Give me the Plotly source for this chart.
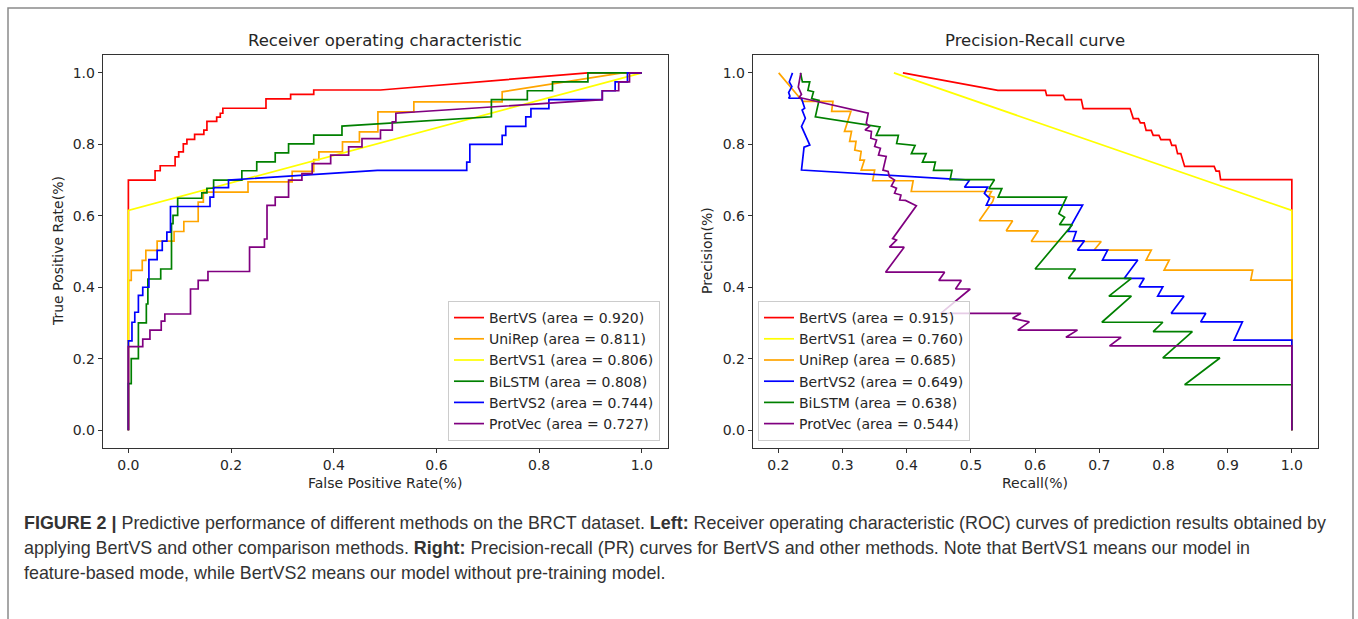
import plotly.graph_objects as go

W, H = 1358, 619

# ---------------- ROC data (false positive rate, true positive rate) ----------------
roc_names = ["BertVS (area = 0.920)", "UniRep (area = 0.811)", "BertVS1 (area = 0.806)",
             "BiLSTM (area = 0.808)", "BertVS2 (area = 0.744)", "ProtVec (area = 0.727)"]
roc_colors = ["#ff0000", "#ffa500", "#ffff00", "#008000", "#0000ff", "#800080"]

roc_bertvs_fpr = [0, 0, 0.052, 0.052, 0.062, 0.062, 0.091, 0.091, 0.098, 0.098, 0.107, 0.107, 0.114, 0.114,
                  0.129, 0.129, 0.147, 0.147, 0.153, 0.153, 0.172, 0.172, 0.179, 0.179, 0.184, 0.184,
                  0.268, 0.268, 0.316, 0.316, 0.361, 0.361, 0.491, 0.895, 1.0]
roc_bertvs_tpr = [0, 0.700, 0.700, 0.726, 0.726, 0.740, 0.740, 0.765, 0.765, 0.779, 0.779, 0.801, 0.801, 0.814,
                  0.814, 0.828, 0.828, 0.840, 0.840, 0.864, 0.864, 0.876, 0.876, 0.887, 0.887, 0.901,
                  0.901, 0.927, 0.927, 0.940, 0.940, 0.952, 0.952, 1.0, 1.0]

roc_unirep_fpr = [0, 0, 0.0056, 0.0056, 0.027, 0.027, 0.034, 0.034, 0.056, 0.056, 0.089, 0.089, 0.108, 0.108,
                  0.136, 0.136, 0.146, 0.146, 0.233, 0.233, 0.319, 0.319, 0.361, 0.361, 0.371, 0.371,
                  0.417, 0.417, 0.450, 0.450, 0.486, 0.486, 0.556, 0.556, 0.728, 0.728, 0.962, 1.0]
roc_unirep_tpr = [0, 0.419, 0.419, 0.447, 0.447, 0.475, 0.475, 0.503, 0.503, 0.529, 0.529, 0.556, 0.556, 0.584,
                  0.584, 0.638, 0.638, 0.666, 0.666, 0.695, 0.695, 0.724, 0.724, 0.757, 0.757, 0.779,
                  0.779, 0.807, 0.807, 0.835, 0.835, 0.891, 0.891, 0.919, 0.919, 0.947, 1.0, 1.0]

roc_bertvs1_fpr = [0, 0, 1.0]
roc_bertvs1_tpr = [0, 0.615, 1.0]

roc_bilstm_fpr = [0, 0, 0.0056, 0.0056, 0.0195, 0.0195, 0.035, 0.035, 0.038, 0.038, 0.063, 0.063, 0.084, 0.084,
                  0.087, 0.087, 0.096, 0.096, 0.143, 0.143, 0.153, 0.153, 0.166, 0.166, 0.221, 0.221,
                  0.250, 0.250, 0.286, 0.286, 0.312, 0.312, 0.361, 0.361, 0.416, 0.416, 0.707, 0.707,
                  0.777, 0.777, 0.826, 0.826, 0.895, 0.895, 1.0]
roc_bilstm_tpr = [0, 0.13, 0.13, 0.20, 0.20, 0.30, 0.30, 0.353, 0.353, 0.423, 0.423, 0.451, 0.451, 0.578,
                  0.578, 0.601, 0.601, 0.649, 0.649, 0.664, 0.664, 0.677, 0.677, 0.700, 0.700, 0.726,
                  0.726, 0.751, 0.751, 0.776, 0.776, 0.801, 0.801, 0.826, 0.826, 0.851, 0.877, 0.925,
                  0.925, 0.950, 0.950, 0.975, 0.975, 1.0, 1.0]

roc_bertvs2_fpr = [0, 0, 0.007, 0.007, 0.0125, 0.0125, 0.0195, 0.0195, 0.028, 0.028, 0.040, 0.040, 0.056, 0.056,
                   0.066, 0.066, 0.075, 0.075, 0.082, 0.082, 0.159, 0.159, 0.166, 0.166, 0.195, 0.195,
                   0.485, 0.659, 0.659, 0.665, 0.665, 0.728, 0.728, 0.735, 0.735, 0.774, 0.774, 0.784, 0.784,
                   0.819, 0.819, 0.923, 0.923, 0.948, 0.948, 0.972, 0.972, 1.0]
roc_bertvs2_tpr = [0, 0.25, 0.25, 0.302, 0.302, 0.33, 0.33, 0.377, 0.377, 0.40, 0.40, 0.477, 0.477, 0.503,
                   0.503, 0.529, 0.529, 0.554, 0.554, 0.626, 0.626, 0.652, 0.652, 0.679, 0.679, 0.700,
                   0.727, 0.727, 0.750, 0.750, 0.800, 0.800, 0.825, 0.825, 0.850, 0.850, 0.877, 0.877, 0.900,
                   0.900, 0.925, 0.925, 0.950, 0.950, 0.975, 0.975, 1.0, 1.0]

roc_protvec_fpr = [0, 0, 0.028, 0.028, 0.042, 0.042, 0.064, 0.064, 0.071, 0.071, 0.121, 0.121, 0.136, 0.136,
                   0.155, 0.155, 0.236, 0.236, 0.265, 0.265, 0.270, 0.270, 0.286, 0.286, 0.312, 0.312,
                   0.338, 0.338, 0.358, 0.358, 0.394, 0.394, 0.429, 0.429, 0.455, 0.455, 0.491, 0.491,
                   0.514, 0.514, 0.521, 0.521, 0.923, 0.923, 0.955, 0.955, 0.976, 0.976, 1.0]
roc_protvec_tpr = [0, 0.234, 0.234, 0.255, 0.255, 0.28, 0.28, 0.305, 0.305, 0.325, 0.325, 0.395, 0.395, 0.419,
                   0.419, 0.444, 0.444, 0.512, 0.512, 0.535, 0.535, 0.629, 0.629, 0.652, 0.652, 0.700,
                   0.700, 0.718, 0.718, 0.746, 0.746, 0.770, 0.770, 0.793, 0.793, 0.816, 0.816, 0.840,
                   0.840, 0.863, 0.863, 0.887, 0.925, 0.950, 0.950, 0.975, 0.975, 1.0, 1.0]

# ---------------- PR data (recall, precision) ----------------
pr_names = ["BertVS (area = 0.915)", "BertVS1 (area = 0.760)", "UniRep (area = 0.685)",
            "BertVS2 (area = 0.649)", "BiLSTM (area = 0.638)", "ProtVec (area = 0.544)"]
pr_colors = ["#ff0000", "#ffff00", "#ffa500", "#0000ff", "#008000", "#800080"]

pr_bertvs_rec = [0.394, 0.542, 0.616, 0.618, 0.644, 0.647, 0.672, 0.675, 0.748, 0.753, 0.761, 0.764, 0.770,
                 0.773, 0.781, 0.784, 0.793, 0.796, 0.810, 0.813, 0.819, 0.822, 0.827, 0.833, 0.879, 0.882,
                 0.887, 0.889, 1.0, 1.0, 1.0]
pr_bertvs_prec = [1.0, 0.951, 0.951, 0.937, 0.937, 0.925, 0.925, 0.900, 0.900, 0.872, 0.872, 0.860, 0.860,
                  0.839, 0.839, 0.825, 0.825, 0.813, 0.813, 0.797, 0.797, 0.774, 0.774, 0.738, 0.738, 0.725,
                  0.725, 0.701, 0.701, 0.615, 0.0]

pr_bertvs1_rec = [0.380, 1.0, 1.0]
pr_bertvs1_prec = [1.0, 0.615, 0.0]

pr_unirep_rec = [0.2005, 0.238, 0.285, 0.283, 0.313, 0.303, 0.314, 0.311, 0.321, 0.319, 0.329, 0.327, 0.334,
                 0.329, 0.350, 0.347, 0.410, 0.407, 0.532, 0.528, 0.536, 0.534, 0.513, 0.565, 0.555, 0.605,
                 0.594, 0.703, 0.692, 0.781, 0.773, 0.809, 0.801, 0.939, 0.936, 1.0, 1.0]
pr_unirep_prec = [1.0, 0.920, 0.920, 0.892, 0.892, 0.836, 0.836, 0.808, 0.808, 0.784, 0.780, 0.756, 0.756,
                  0.728, 0.728, 0.698, 0.698, 0.668, 0.668, 0.655, 0.652, 0.640, 0.586, 0.586, 0.558, 0.558,
                  0.528, 0.528, 0.504, 0.504, 0.476, 0.476, 0.448, 0.448, 0.420, 0.420, 0.0]

pr_bertvs2_rec = [0.222, 0.217, 0.221, 0.216, 0.218, 0.216, 0.236, 0.241, 0.237, 0.242, 0.236, 0.249, 0.240,
                  0.236, 0.498, 0.490, 0.526, 0.521, 0.529, 0.524, 0.674, 0.651, 0.664, 0.659, 0.677, 0.666,
                  0.713, 0.705, 0.760, 0.739, 0.770, 0.762, 0.799, 0.791, 0.832, 0.812, 0.866, 0.858, 0.923,
                  0.910, 1.0, 1.0]
pr_bertvs2_prec = [1.0, 0.975, 0.962, 0.945, 0.935, 0.929, 0.929, 0.901, 0.896, 0.873, 0.850, 0.798, 0.792,
                   0.728, 0.700, 0.680, 0.680, 0.663, 0.649, 0.630, 0.630, 0.556, 0.556, 0.530, 0.530, 0.504,
                   0.504, 0.476, 0.476, 0.425, 0.425, 0.401, 0.401, 0.375, 0.375, 0.327, 0.327, 0.303, 0.303,
                   0.252, 0.252, 0.0]

pr_bilstm_rec = [0.2345, 0.2374, 0.2489, 0.246, 0.2547, 0.2518, 0.2633, 0.2576, 0.3583, 0.3525, 0.387, 0.3842,
                 0.413, 0.4072, 0.4302, 0.4245, 0.4446, 0.4417, 0.4705, 0.4676, 0.5367, 0.528, 0.5482, 0.5424,
                 0.649, 0.637, 0.646, 0.638, 0.658, 0.600, 0.663, 0.652, 0.750, 0.715, 0.750, 0.704, 0.799,
                 0.784, 0.845, 0.799, 0.888, 0.833, 1.0, 1.0]
pr_bilstm_prec = [1.0, 0.975, 0.975, 0.951, 0.947, 0.928, 0.923, 0.877, 0.849, 0.825, 0.825, 0.802,
                  0.797, 0.774, 0.774, 0.750, 0.750, 0.727, 0.727, 0.701, 0.701, 0.676, 0.676, 0.652,
                  0.652, 0.606, 0.596, 0.575, 0.575, 0.451, 0.451, 0.425, 0.425, 0.375, 0.375, 0.302, 0.302,
                  0.276, 0.276, 0.202, 0.202, 0.127, 0.127, 0.0]

pr_protvec_rec = [0.235, 0.231, 0.236, 0.232, 0.238, 0.340, 0.337, 0.342, 0.335, 0.345, 0.344, 0.353, 0.350,
                  0.359, 0.356, 0.368, 0.363, 0.371, 0.373, 0.381, 0.376, 0.384, 0.381, 0.391, 0.389, 0.398,
                  0.415, 0.378, 0.384, 0.373, 0.396, 0.367, 0.459, 0.450, 0.485, 0.476, 0.499, 0.453, 0.578,
                  0.565, 0.591, 0.573, 0.666, 0.648, 0.734, 0.716, 1.0, 1.0]
pr_protvec_prec = [1.0, 0.96, 0.94, 0.93, 0.929, 0.887, 0.859, 0.850, 0.840, 0.836, 0.817, 0.812, 0.794,
                   0.789, 0.770, 0.766, 0.728, 0.724, 0.709, 0.700, 0.683, 0.677, 0.663, 0.658, 0.644, 0.643,
                   0.628, 0.536, 0.532, 0.512, 0.512, 0.442, 0.442, 0.419, 0.419, 0.395, 0.395, 0.327, 0.327,
                   0.313, 0.303, 0.280, 0.280, 0.260, 0.260, 0.236, 0.236, 0.0]

roc_x = [roc_bertvs_fpr, roc_unirep_fpr, roc_bertvs1_fpr, roc_bilstm_fpr, roc_bertvs2_fpr, roc_protvec_fpr]
roc_y = [roc_bertvs_tpr, roc_unirep_tpr, roc_bertvs1_tpr, roc_bilstm_tpr, roc_bertvs2_tpr, roc_protvec_tpr]
pr_x = [pr_bertvs_rec, pr_bertvs1_rec, pr_unirep_rec, pr_bertvs2_rec, pr_bilstm_rec, pr_protvec_rec]
pr_y = [pr_bertvs_prec, pr_bertvs1_prec, pr_unirep_prec, pr_bertvs2_prec, pr_bilstm_prec, pr_protvec_prec]

roc_ticks = [0.0, 0.2, 0.4, 0.6, 0.8, 1.0]
pr_xticks = [0.2, 0.3, 0.4, 0.5, 0.6, 0.7, 0.8, 0.9, 1.0]
y_ticks = [0.0, 0.2, 0.4, 0.6, 0.8, 1.0]

caption_lines = [
    "<b>FIGURE 2 |</b> Predictive performance of different methods on the BRCT dataset. <b>Left:</b> "
    "Receiver operating characteristic (ROC) curves of prediction results obtained by",
    "applying BertVS and other comparison methods. <b>Right:</b> Precision-recall (PR) curves for BertVS "
    "and other methods. Note that BertVS1 means our model in",
    "feature-based mode, while BertVS2 means our model without pre-training model.",
]

LW = 1.7
fig = go.Figure()
for name, col, xs, ys in zip(roc_names, roc_colors, roc_x, roc_y):
    fig.add_trace(go.Scatter(x=xs, y=ys, mode="lines", name=name, line=dict(color=col, width=LW),
                             xaxis="x", yaxis="y", legend="legend"))
for name, col, xs, ys in zip(pr_names, pr_colors, pr_x, pr_y):
    fig.add_trace(go.Scatter(x=xs, y=ys, mode="lines", name=name, line=dict(color=col, width=LW),
                             xaxis="x2", yaxis="y2", legend="legend2"))


def px_x(p):
    return p / W


def px_y(p):
    return 1 - p / H


FONT = "DejaVu Sans"
TXT = "#262626"
FS = 14
axis_common = dict(showline=True, mirror=True, linecolor="#333333", linewidth=1, ticks="outside",
                   ticklen=4, tickcolor="#333333", tickwidth=1, showgrid=False, zeroline=False,
                   tickfont=dict(family=FONT, size=FS, color=TXT), tickformat=".1f", fixedrange=True)

y_dom = [px_y(448), px_y(55)]
legend_common = dict(yanchor="bottom", y=px_y(441), bgcolor="rgba(255,255,255,0.8)",
                     bordercolor="#cccccc", borderwidth=1,
                     font=dict(family=FONT, size=FS, color=TXT), tracegroupgap=0, itemwidth=30)
fig.update_layout(
    width=W, height=H, margin=dict(l=0, r=0, t=0, b=0),
    paper_bgcolor="white", plot_bgcolor="white",
    xaxis=dict(domain=[px_x(102.7), px_x(667.5)], range=[-0.05, 1.05], tickvals=roc_ticks,
               anchor="y", **axis_common),
    yaxis=dict(domain=y_dom, range=[-0.05, 1.05], tickvals=y_ticks, anchor="x", **axis_common),
    xaxis2=dict(domain=[px_x(752.7), px_x(1317.5)], range=[0.16, 1.04], tickvals=pr_xticks,
                anchor="y2", **axis_common),
    yaxis2=dict(domain=y_dom, range=[-0.05, 1.05], tickvals=y_ticks, anchor="x2", **axis_common),
    legend=dict(x=px_x(660), xanchor="right", **legend_common),
    legend2=dict(x=px_x(758), xanchor="left", **legend_common),
    showlegend=True,
)

annots = [
    dict(text="Receiver operating characteristic", x=px_x(385), y=px_y(41), font=dict(size=16.5)),
    dict(text="Precision-Recall curve", x=px_x(1035), y=px_y(41), font=dict(size=16.5)),
    dict(text="False Positive Rate(%)", x=px_x(385), y=px_y(483), font=dict(size=FS)),
    dict(text="Recall(%)", x=px_x(1035), y=px_y(483), font=dict(size=FS)),
    dict(text="True Positive Rate(%)", x=px_x(58), y=px_y(251), font=dict(size=FS), textangle=-90),
    dict(text="Precision(%)", x=px_x(707), y=px_y(251), font=dict(size=FS), textangle=-90),
]
for a in annots:
    f = dict(family=FONT, color=TXT)
    f.update(a.pop("font"))
    fig.add_annotation(xref="paper", yref="paper", showarrow=False, xanchor="center", yanchor="middle",
                       font=f, **a)

for i, line in enumerate(caption_lines):
    fig.add_annotation(xref="paper", yref="paper", showarrow=False, xanchor="left", yanchor="middle",
                       x=px_x(22), y=px_y(523 + 25 * i), text=line,
                       font=dict(family="Liberation Sans", size=17.9, color="#333333"))

# outer figure frame
fig.add_shape(type="rect", xref="paper", yref="paper", x0=px_x(8), x1=px_x(1353), y0=-0.1, y1=px_y(8),
              line=dict(color="#8a8a8a", width=1.5), fillcolor="rgba(0,0,0,0)", layer="below")

fig.write_html("out.html", config={"displayModeBar": False},
               post_script="document.body.style.margin='0';document.body.style.overflow='hidden';")
